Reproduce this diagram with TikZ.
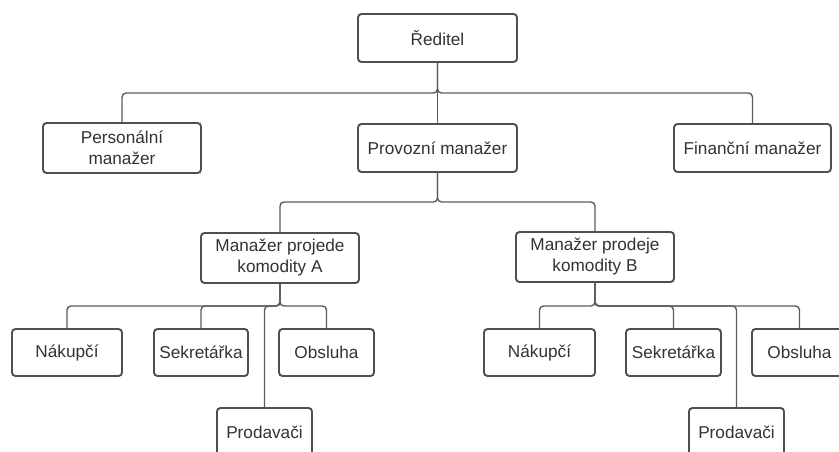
\documentclass[tikz,border=0pt]{standalone}
\usepackage{fontspec}
\setmainfont{Liberation Sans}
\begin{document}
\begin{tikzpicture}[x=1pt,y=-1pt,
  box/.style={draw=boxgray, line width=1.9pt, rounded corners=3.5pt, fill=white,
    text=textgray, align=center, inner sep=0pt,
    font=\fontsize{17.2}{21}\selectfont},
  conn/.style={draw=linegray, line width=1.4pt, rounded corners=4pt},
]
\definecolor{boxgray}{HTML}{4F4F4F}
\definecolor{linegray}{HTML}{5C5C5C}
\definecolor{textgray}{HTML}{333333}
\useasboundingbox (0,0) rectangle (839,451);
\clip (0,0) rectangle (839,451);

% bus levels of the tree
\coordinate (bus1) at (0,93);
\coordinate (bus2) at (0,202);
\coordinate (bus3) at (0,306);

% top level
\node[box, minimum width=159pt, minimum height=48pt] (red) at (437.5,38) {Ředitel};
\node[box, minimum width=158pt, minimum height=50pt] (pers) at (122,148) {Personální\\manažer};
\node[box, minimum width=159pt, minimum height=48pt] (prov) at (437.5,148) {Provozní manažer};
\node[box, minimum width=157pt, minimum height=48pt] (fin) at (752.5,148) {Finanční manažer};

% commodity managers
\node[box, minimum width=158pt, minimum height=50pt] (mA) at (280,258) {Manažer projede\\komodity A};
\node[box, minimum width=158pt, minimum height=50pt] (mB) at (595,257) {Manažer prodeje\\komodity B};

% staff under A
\node[box, minimum width=110pt, minimum height=47pt] (nA) at (67,352.5) {Nákupčí};
\node[box, minimum width=94pt, minimum height=47pt] (sA) at (201,352.5) {Sekretářka};
\node[box, minimum width=95pt, minimum height=47pt] (oA) at (326.5,352.5) {Obsluha};
\node[box, minimum width=95pt, minimum height=48pt] (pA) at (264.5,432) {Prodavači};

% staff under B
\node[box, minimum width=111pt, minimum height=47pt] (nB) at (539.5,352.5) {Nákupčí};
\node[box, minimum width=95pt, minimum height=47pt] (sB) at (673.5,352.5) {Sekretářka};
\node[box, minimum width=95pt, minimum height=47pt] (oB) at (799.5,352.5) {Obsluha};
\node[box, minimum width=95pt, minimum height=48pt] (pB) at (736.5,432) {Prodavači};

% connectors
\draw[conn] (red.south) |- (bus1 -| pers.north) -- (pers.north);
\draw[conn] (red.south) -- (prov.north);
\draw[conn] (red.south) |- (bus1 -| fin.north) -- (fin.north);

\draw[conn] (prov.south) |- (bus2 -| mA.north) -- (mA.north);
\draw[conn] (prov.south) |- (bus2 -| mB.north) -- (mB.north);

\draw[conn] (mA.south) |- (bus3 -| nA.north) -- (nA.north);
\draw[conn] (mA.south) |- (bus3 -| sA.north) -- (sA.north);
\draw[conn] (mA.south) |- (bus3 -| pA.north) -- (pA.north);
\draw[conn] (mA.south) |- (bus3 -| oA.north) -- (oA.north);

\draw[conn] (mB.south) |- (bus3 -| nB.north) -- (nB.north);
\draw[conn] (mB.south) |- (bus3 -| sB.north) -- (sB.north);
\draw[conn] (mB.south) |- (bus3 -| pB.north) -- (pB.north);
\draw[conn] (mB.south) |- (bus3 -| oB.north) -- (oB.north);
\end{tikzpicture}
\end{document}
